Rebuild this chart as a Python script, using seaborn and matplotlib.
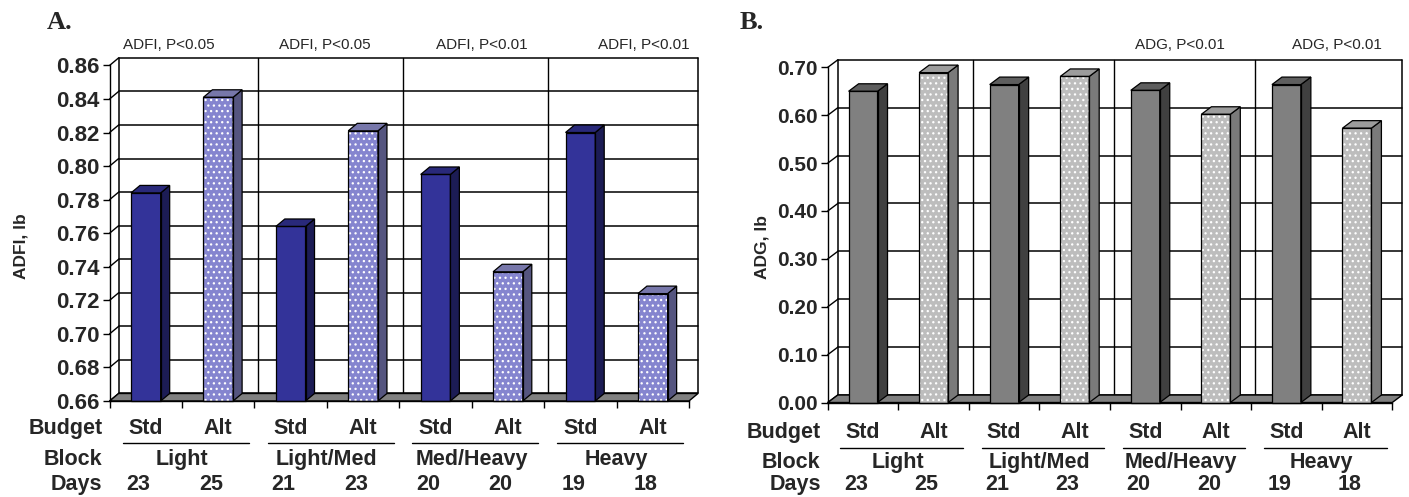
import numpy as np
import pandas as pd
import matplotlib
matplotlib.use("Agg")
import matplotlib.pyplot as plt
import seaborn as sns
from matplotlib.patches import Polygon, Rectangle
from matplotlib.transforms import blended_transform_factory

# values
budgets = ["Std", "Alt", "Std", "Alt", "Std", "Alt", "Std", "Alt"]
blocks = ["Light", "Light/Med", "Med/Heavy", "Heavy"]
days = [23, 25, 21, 23, 20, 20, 19, 18]
adfi = [0.784, 0.841, 0.764, 0.821, 0.795, 0.737, 0.820, 0.724]
adg = [0.650, 0.689, 0.664, 0.681, 0.652, 0.602, 0.664, 0.573]
adfi_notes = ["ADFI, P<0.05", "ADFI, P<0.05", "ADFI, P<0.01", "ADFI, P<0.01"]
adg_notes = ["", "", "ADG, P<0.01", "ADG, P<0.01"]
adfi_ticks = [0.66, 0.68, 0.70, 0.72, 0.74, 0.76, 0.78, 0.80, 0.82, 0.84, 0.86]
adg_ticks = [0.00, 0.10, 0.20, 0.30, 0.40, 0.50, 0.60, 0.70]

PAL_A = {"Std": dict(front="#333399", side="#1C1C55", top="#29297A", hatch=False),
         "Alt": dict(front="#8585CF", side="#55557F", top="#7777AA", hatch=True)}
PAL_B = {"Std": dict(front="#808080", side="#404040", top="#5E5E5E", hatch=False),
         "Alt": dict(front="#BDBDBD", side="#7A7A7A", top="#9C9C9C", hatch=True)}
FLOOR = "#808080"

sns.set_theme(style="white")
plt.rcParams["font.family"] = ["Liberation Sans", "DejaVu Sans"]
plt.rcParams["hatch.linewidth"] = 0.9

fig = plt.figure(figsize=(14.09, 4.97), dpi=100)


def draw_panel(ax, values, ticks, pal, tick_fs, ylabel, ylab_xy, notes, note_x,
               depth_px, rows_y):
    df = pd.DataFrame({"bar": [f"{b}{i}" for i, b in enumerate(budgets)],
                       "value": values})
    sns.barplot(data=df, x="bar", y="value", hue="bar",
                palette=[pal[b]["front"] for b in budgets], legend=False,
                width=0.41, saturation=1, ax=ax)
    xmin, xmax = -0.5, 7.5
    base, top = ticks[0], ticks[-1]
    ax.set_xlim(xmin, xmax)
    ax.set_ylim(base, top)
    bb = ax.get_window_extent()
    dx = depth_px[0] * (xmax - xmin) / bb.width
    dy = depth_px[1] * (top - base) / bb.height

    # back wall, gridlines and side wall
    for t in ticks:
        ax.plot([xmin + dx, xmax + dx], [t + dy, t + dy], color="black", lw=1.1,
                zorder=0.5, clip_on=False)
        ax.plot([xmin, xmin + dx], [t, t + dy], color="black", lw=1,
                zorder=0.5, clip_on=False)
    for xx in (xmin + dx, xmax + dx):
        ax.plot([xx, xx], [base + dy, top + dy], color="black", lw=1.1,
                zorder=0.5, clip_on=False)
    for s in (1.5, 3.5, 5.5):
        ax.plot([s + dx * 0.4] * 2, [base + dy, top + dy], color="black", lw=1,
                zorder=0.5, clip_on=False)
    ax.add_patch(Polygon([(xmin, base), (xmax, base), (xmax + dx, base + dy),
                          (xmin + dx, base + dy)], closed=True, fc=FLOOR,
                         ec="black", lw=1, zorder=1.5, clip_on=False))

    # 3D faces on the seaborn bars
    for p, b in zip(ax.patches[:len(budgets)], budgets):
        c = pal[b]
        x0, w, v = p.get_x(), p.get_width(), p.get_y() + p.get_height()
        p.set_zorder(2)
        if c["hatch"]:
            p.set_hatch("...")
            p.set_edgecolor("white")
            p.set_linewidth(0)
        else:
            p.set_edgecolor("none")
        ax.add_patch(Polygon([(x0 + w, base), (x0 + w, v), (x0 + w + dx, v + dy),
                              (x0 + w + dx, base + dy)], closed=True,
                             fc=c["side"], ec="black", lw=0.9, zorder=2.1,
                             clip_on=False))
        ax.add_patch(Polygon([(x0, v), (x0 + w, v), (x0 + w + dx, v + dy),
                              (x0 + dx, v + dy)], closed=True, fc=c["top"],
                             ec="black", lw=0.9, zorder=2.1, clip_on=False))
        ax.add_patch(Rectangle((x0, base), w, v - base, fill=False, ec="black",
                               lw=0.9, zorder=2.2, clip_on=False))

    for side in ("top", "right"):
        ax.spines[side].set_visible(False)
    for side in ("left", "bottom"):
        ax.spines[side].set_color("black")
        ax.spines[side].set_linewidth(1)
    ax.grid(False)
    ax.set_xlabel("")
    ax.set_ylabel("")
    ax.set_xticks(np.arange(xmin, xmax + 0.5, 1))
    ax.set_xticklabels([])
    ax.set_yticks(ticks)
    ax.set_yticklabels([f"{t:.2f}" for t in ticks], fontsize=tick_fs,
                       fontweight="bold")
    ax.tick_params(axis="both", direction="out", length=5, width=1, pad=2,
                   color="black", left=True, bottom=True)

    fig.text(ylab_xy[0], ylab_xy[1], ylabel, rotation=90, fontsize=12.5,
             fontweight="bold", ha="center", va="center")

    tr = blended_transform_factory(ax.transData, fig.transFigure)
    for nx, note in zip(note_x, notes):
        ax.text(nx, 0.909, note, transform=tr, ha="center", va="center",
                fontsize=11)

    y_bud, y_line, y_blk, y_days = rows_y
    kw = dict(transform=tr, va="center", fontsize=15.5, fontweight="bold")
    for lab, yy in (("Budget", y_bud), ("Block", y_blk), ("Days", y_days)):
        ax.text(-0.6, yy, lab, ha="right", **kw)
    for i, b in enumerate(budgets):
        ax.text(i, y_bud, b, ha="center", **kw)
        ax.text(i - 0.1, y_days, str(days[i]), ha="center", **kw)
    for g, name in enumerate(blocks):
        ax.text(2 * g + 0.5, y_blk, name, ha="center", **kw)
        ax.plot([2 * g - 0.32, 2 * g + 1.42], [y_line, y_line], transform=tr,
                color="black", lw=1, clip_on=False)


ax_a = fig.add_axes([0.0778, 0.1932, 0.4112, 0.6752])
draw_panel(ax_a, adfi, adfi_ticks, PAL_A, 16, "ADFI, lb", (0.015, 0.505),
           adfi_notes, [0.32, 2.47, 4.64, 6.88], (9, 7.5),
           (0.137, 0.108, 0.0755, 0.026))

ax_b = fig.add_axes([0.5875, 0.1901, 0.4006, 0.6744])
draw_panel(ax_b, adg, adg_ticks, PAL_B, 15, "ADG, lb", (0.541, 0.503),
           adg_notes, [0.5, 2.5, 4.49, 6.71], (10, 7.5),
           (0.129, 0.0986, 0.0704, 0.026))

fig.text(0.0334, 0.954, "A.", fontsize=19, fontweight="bold",
         family="Liberation Serif", ha="left", va="center")
fig.text(0.525, 0.954, "B.", fontsize=19, fontweight="bold",
         family="Liberation Serif", ha="left", va="center")

fig.savefig("out.png", dpi=100)
